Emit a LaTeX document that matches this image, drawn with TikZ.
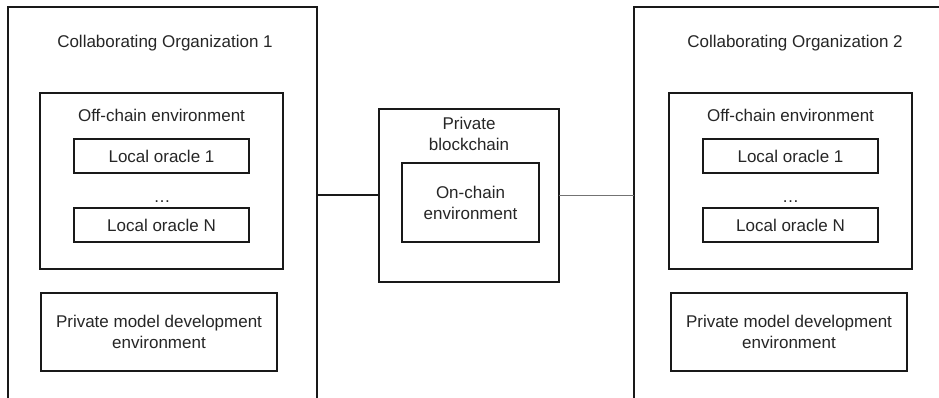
\documentclass[tikz,border=0pt]{standalone}
\usepackage{fontspec}
\setmainfont{Liberation Sans}
\begin{document}
\begin{tikzpicture}[x=1pt,y=-1pt,
  box/.style={draw=black!90,line width=1.8pt,inner sep=0pt,outer sep=0pt},
  lbl/.style={font=\fontsize{17}{21}\selectfont,text=black!85,align=center,inner sep=0pt},
  dotsl/.style={font=\fontsize{17}{21}\selectfont,text=black!85,inner sep=0pt,anchor=base},
  link/.style={line width=2pt,draw=black!90}]
  \useasboundingbox (0,0) rectangle (939,398);
  \fill[white] (0,0) rectangle (939,398);
  \clip (0,0) rectangle (939,398);

  % organisation 1
  \node[box,minimum width=309pt,minimum height=413pt] (org1) at (162.5,213.5) {};
  \node[lbl] (t1) at (165,43) {Collaborating Organization 1};
  \node[box,minimum width=243pt,minimum height=176pt] (off1) at (161.5,181) {};
  \node[lbl] (off1t) at (161.5,115) {Off-chain environment};
  \node[box,lbl,minimum width=175pt,minimum height=34pt] (o1a) at (161.5,156) {Local oracle 1};
  \node[dotsl] (d1) at (162,202.5) {…};
  \node[box,lbl,minimum width=175pt,minimum height=34pt] (o1n) at (161.5,225) {Local oracle N};
  \node[box,lbl,minimum width=236pt,minimum height=78pt] (pm1) at (159,332) {Private model development\\environment};

  % shared chain
  \node[box,minimum width=180pt,minimum height=173pt] (chain) at (469,195.5) {};
  \node[lbl] (chaint) at (469,134) {Private\\blockchain};
  \node[box,lbl,minimum width=137pt,minimum height=79pt] (onc) at (470.5,202.5) {On-chain\\environment};

  % organisation 2
  \node[box,minimum width=330pt,minimum height=413pt] (org2) at (799,213.5) {};
  \node[lbl] (t2) at (795,43) {Collaborating Organization 2};
  \node[box,minimum width=243pt,minimum height=176pt] (off2) at (790.5,181) {};
  \node[lbl] (off2t) at (790.5,115) {Off-chain environment};
  \node[box,lbl,minimum width=175pt,minimum height=34pt] (o2a) at (790.5,156) {Local oracle 1};
  \node[dotsl] (d2) at (790.5,202.5) {…};
  \node[box,lbl,minimum width=175pt,minimum height=34pt] (o2n) at (790.5,225) {Local oracle N};
  \node[box,lbl,minimum width=236pt,minimum height=78pt] (pm2) at (789,332) {Private model development\\environment};

  % links
  \draw[link] (chain.west) -- (chain.west -| org1.east);
  \draw[line width=1.5pt,draw=black!55] (chain.east) -- (chain.east -| org2.west);
\end{tikzpicture}
\end{document}
